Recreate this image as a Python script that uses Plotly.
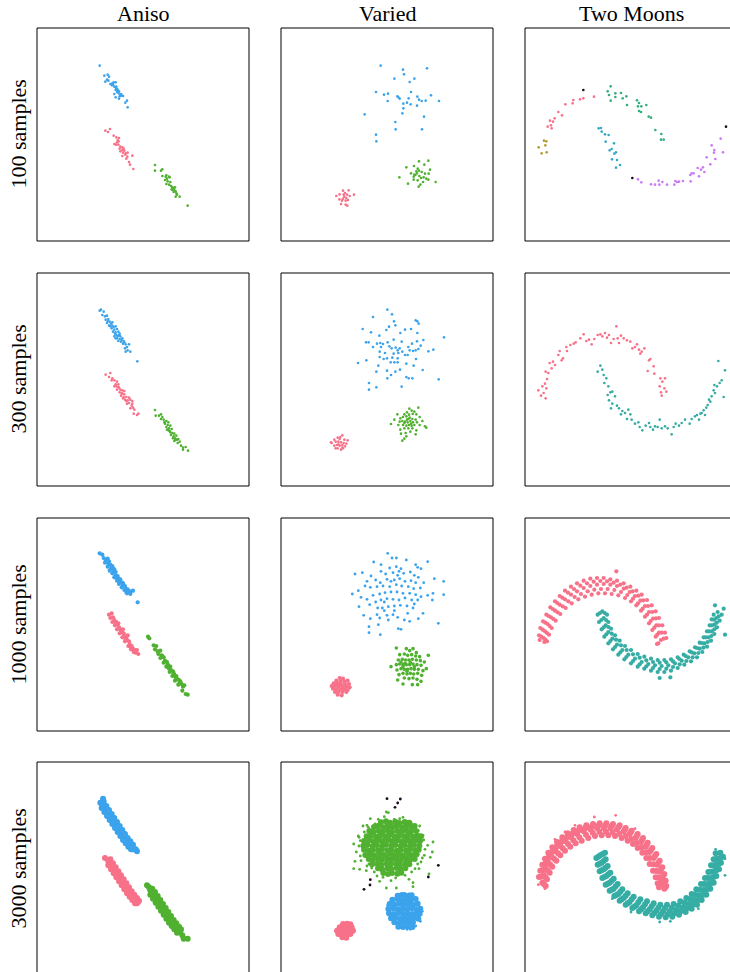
import plotly.graph_objects as go

# ---------------- colours ----------------
PINK = "#f77189"
BLUE = "#3ba3ec"
GREEN = "#50b131"
TEAL = "#36ada4"
OLIVE = "#ae9d31"
SEAGREEN = "#34ae7c"
CYAN = "#38a9c5"
PURPLE = "#cc7af4"
NOISE = "#1c0b22"

col_titles = ["Aniso", "Varied", "Two Moons"]
row_titles = ["100 samples", "300 samples", "1000 samples", "3000 samples"]

# ---------------- data (panel units) ----------------
# Aniso, 100 samples
aniso100_blue = [(188,113),(202,143),(212,140),(216,146),(210,155),(205,161),(214,158),(220,168),(226,166),(230,163),(236,163),(225,172),(232,176),(237,180),(236,186),(242,186),(246,190),(240,192),(232,198),(245,196),(250,200),(255,203),(258,204),(248,205),(236,208),(246,212),(270,218),(265,224),(272,238),(238,176),(241,184),(228,170),(252,198)]
aniso100_pink = [(205,308),(213,312),(219,303),(230,323),(238,328),(246,330),(242,336),(240,343),(232,348),(237,350),(244,350),(250,356),(256,358),(248,362),(256,366),(262,368),(250,370),(258,374),(266,376),(272,374),(265,380),(256,384),(271,386),(286,383),(268,392),(276,402),(279,410),(289,423),(245,340),(260,362)]
aniso100_green = [(354,411),(354,428),(372,428),(376,424),(376,444),(386,446),(396,446),(390,452),(398,448),(384,456),(392,460),(400,462),(388,468),(396,470),(402,474),(406,478),(410,480),(404,484),(414,478),(412,486),(416,490),(418,496),(410,492),(420,500),(428,506),(416,506),(452,533),(388,442),(406,486)]

# Varied, 100 samples
varied100_blue = [(299,113),(366,125),(438,121),(369,139),(340,152),(400,152),(386,162),(285,192),(309,200),(321,197),(390,192),(349,205),(356,212),(383,211),(409,206),(414,215),(422,219),(434,218),(450,202),(474,219),(320,219),(367,227),(378,224),(389,229),(408,233),(367,241),(364,256),(251,259),(429,266),(343,282),(344,304),(423,304),(285,320),(286,340),(352,208)]
varied100_green = [(414,400),(442,398),(376,418),(399,414),(430,410),(410,422),(447,425),(406,430),(414,428),(390,436),(400,440),(422,432),(432,437),(443,437),(355,448),(398,446),(415,444),(428,448),(436,452),(442,455),(410,457),(398,455),(426,462),(464,462),(381,467),(418,470),(413,476),(403,441),(420,450),(408,436)]
varied100_pink = [(186,488),(203,487),(176,499),(192,495),(198,500),(166,504),(206,504),(219,500),(175,514),(186,512),(194,518),(201,516),(183,518),(180,528),(194,530),(199,533),(190,506),(188,500),(196,510)]

# Two Moons, 100 samples
moons100_pink = [(175,211),(165,214),(145,216),(143,226),(121,229),(111,262),(100,252),(89,271),(84,281),(75,278),(78,292),(68,296),(80,301),(207,206)]
moons100_olive = [(57,338),(64,340),(61,352),(41,358),(65,373),(50,376)]
moons100_noise = [(175,186),(322,450),(603,296)]
moons100_seagreen = [(257,175),(248,190),(271,196),(288,195),(252,201),(271,207),(293,211),(304,205),(257,218),(306,231),(336,217),(342,225),(339,235),(349,235),(364,231),(342,249),(348,252),(371,266),(378,269),(391,306),(409,318),(408,335),(416,335)]
moons100_cyan = [(221,301),(228,300),(230,311),(240,319),(251,321),(267,346),(242,341),(260,363),(254,367),(273,373),(268,377),(261,394),(276,396),(285,411),(273,419)]
moons100_purple = [(339,454),(349,463),(378,469),(390,470),(401,458),(403,470),(412,462),(426,470),(448,470),(451,459),(456,462),(462,461),(474,459),(497,460),(496,441),(500,436),(506,436),(518,420),(522,445),(528,425),(534,418),(538,432),(545,388),(556,409),(560,352),(568,366),(567,374),(571,393),(587,332),(594,373)]

# Aniso, 300 samples
aniso300_blue = [(188,113),(192,110),(200,116),(196,126),(204,130),(210,128),(206,140),(214,138),(218,146),(210,150),(222,152),(226,158),(216,158),(230,162),(236,160),(224,166),(232,170),(240,168),(228,176),(236,178),(244,176),(238,186),(246,186),(250,190),(232,190),(240,196),(248,198),(256,196),(244,204),(252,206),(260,204),(258,212),(266,214),(276,214),(270,222),(264,226),(272,232),(280,236),(266,236),(301,265),(220,160),(234,182),(242,190),(254,200),(262,208),(248,182),(212,144),(226,148),(236,196)]
aniso300_pink = [(206,305),(220,300),(216,312),(224,322),(232,322),(240,326),(236,334),(244,334),(232,340),(246,344),(250,350),(240,350),(256,352),(248,358),(256,362),(262,364),(252,368),(260,372),(268,372),(264,380),(272,382),(280,380),(286,384),(276,390),(270,392),(284,398),(288,404),(280,406),(292,410),(290,422),(300,426),(304,422),(226,316),(238,340),(254,360),(268,384),(258,376),(244,342),(262,354),(276,374),(286,392)]
aniso300_green = [(354,411),(356,428),(366,428),(372,424),(376,432),(380,440),(372,438),(388,444),(394,448),(384,452),(392,456),(400,458),(388,462),(396,466),(404,468),(398,474),(406,480),(412,482),(402,486),(410,490),(418,488),(414,496),(420,500),(412,504),(422,510),(428,506),(432,518),(438,524),(446,522),(438,530),(453,533),(390,470),(400,478),(408,496),(416,500),(382,448),(394,472),(424,498)]

# Varied, 300 samples
varied300_blue = [(319,110),(276,132),(333,124),(404,142),(409,145),(413,152),(339,145),(343,157),(324,161),(245,168),(316,171),(372,170),(390,168),(270,178),(358,180),(409,180),(295,188),(489,193),(255,208),(263,208),(288,212),(298,210),(306,213),(320,208),(338,200),(362,206),(393,212),(408,205),(427,201),(419,218),(276,222),(300,222),(325,220),(332,226),(344,224),(356,226),(350,232),(382,222),(396,234),(386,232),(404,232),(412,228),(442,235),(457,230),(296,236),(312,240),(338,242),(352,240),(364,236),(372,246),(380,246),(296,252),(308,258),(318,256),(334,254),(350,256),(256,262),(329,268),(340,268),(350,268),(376,272),(405,258),(231,270),(292,278),(398,278),(286,296),(318,293),(343,296),(357,290),(425,291),(330,306),(376,312),(383,316),(394,316),(319,316),(473,319),(264,330),(286,343),(362,341),(264,350)]
varied300_green = [(412,404),(385,407),(392,413),(400,416),(378,418),(349,424),(370,424),(384,425),(395,423),(406,424),(416,432),(340,440),(358,436),(366,432),(376,430),(386,434),(394,438),(404,440),(424,444),(330,453),(356,446),(364,444),(372,446),(380,448),(388,444),(396,448),(408,448),(432,460),(436,464),(352,456),(366,456),(376,458),(384,456),(392,458),(400,456),(416,456),(358,470),(370,466),(382,466),(394,466),(406,472),(360,482),(374,480),(388,476),(404,484),(364,503),(370,497),(376,490),(378,440),(390,452),(370,450),(382,438)]
varied300_pink = [(184,487),(170,494),(160,500),(176,498),(190,500),(200,502),(152,510),(164,506),(172,506),(180,508),(188,510),(196,512),(160,518),(168,516),(176,518),(184,516),(192,520),(170,526),(180,530),(164,526),(186,526),(150,508),(178,492),(172,514),(184,524)]

# Two Moons, 300 samples
moons300_pink = [(40,352),(48,368),(62,376),(56,360),(64,346),(60,332),(52,340),(66,318),(70,300),(62,296),(80,286),(74,270),(84,266),(90,276),(100,246),(104,234),(110,262),(114,256),(124,222),(126,234),(136,216),(146,212),(152,208),(166,196),(176,184),(184,204),(192,200),(200,214),(208,198),(218,186),(226,184),(232,190),(240,180),(246,194),(252,186),(258,210),(266,198),(274,160),(278,196),(282,210),(288,188),(296,196),(306,202),(316,206),(322,226),(330,222),(336,214),(342,230),(350,236),(346,242),(358,226),(372,262),(376,258),(368,294),(386,280),(388,302),(406,316),(412,326),(420,316),(404,340),(418,346),(410,368),(424,356),(408,358)]
moons300_teal = [(226,278),(218,296),(232,290),(236,306),(244,316),(238,330),(250,340),(256,358),(262,356),(248,366),(270,370),(252,382),(262,392),(258,406),(276,398),(282,406),(292,414),(288,424),(300,420),(310,410),(316,424),(306,438),(320,440),(330,452),(340,448),(352,472),(344,462),(362,458),(372,450),(376,462),(384,470),(390,460),(398,462),(404,440),(410,466),(420,460),(428,466),(440,484),(446,462),(452,452),(462,458),(470,450),(480,440),(494,452),(500,438),(510,430),(516,426),(522,440),(530,420),(536,412),(544,404),(548,396),(552,380),(560,370),(566,352),(570,360),(576,340),(584,330),(590,322),(596,372),(580,264),(600,292),(568,336),(556,386),(540,426),(526,422)]

# Aniso, 1000 samples
aniso1000_blue = [(188,106),(196,110),(200,120),(206,126),(212,122),(204,134),(214,136),(220,140),(212,146),(222,152),(228,150),(218,158),(230,160),(236,162),(226,166),(236,172),(242,174),(232,178),(244,182),(250,184),(240,188),(250,192),(256,194),(246,198),(258,202),(264,204),(254,208),(266,212),(272,214),(262,216),(274,222),(282,220),(270,226),(280,228),(288,218),(302,253),(216,130),(226,144),(240,180),(258,196),(268,222),(232,154),(246,190)]
aniso1000_pink = [(216,290),(224,286),(220,300),(228,298),(232,306),(226,312),(238,312),(242,320),(234,322),(246,328),(250,334),(240,334),(254,340),(260,346),(248,346),(262,354),(268,358),(256,358),(270,366),(276,370),(264,370),(278,378),(284,384),(274,384),(288,392),(294,396),(282,394),(296,404),(304,408),(290,402),(300,396),(236,318),(252,342),(266,364),(280,386),(244,316),(272,352),(258,334)]
aniso1000_green = [(333,356),(337,361),(350,382),(358,384),(354,394),(362,400),(370,398),(364,408),(374,412),(380,418),(370,420),(384,428),(390,432),(380,434),(394,442),(400,446),(388,446),(402,456),(408,460),(398,462),(412,470),(418,474),(406,474),(420,482),(426,486),(414,488),(428,494),(434,498),(424,500),(438,506),(442,502),(436,518),(446,528),(452,530),(376,414),(392,440),(410,466),(430,490),(396,452),(416,478)]

# Varied, 1000 samples
varied1000_blue = [(320,106),(278,132),(333,120),(346,120),(376,126),(440,131),(300,140),(326,150),(346,146),(360,152),(404,140),(410,148),(420,152),(244,164),(222,168),(270,174),(300,160),(314,168),(336,164),(354,160),(368,166),(388,162),(400,172),(412,178),(460,182),(488,190),(258,190),(284,186),(298,194),(318,184),(340,186),(356,182),(372,190),(390,188),(404,194),(428,194),(232,218),(214,228),(252,204),(268,208),(288,206),(306,204),(326,206),(346,200),(362,204),(382,206),(398,212),(418,210),(440,232),(456,226),(488,230),(240,238),(258,244),(276,232),(296,228),(312,224),(330,222),(348,222),(366,226),(386,226),(404,230),(420,236),(454,246),(234,266),(266,260),(284,252),(300,246),(318,242),(336,244),(354,246),(372,240),(392,246),(410,246),(248,292),(288,290),(304,270),(322,266),(340,264),(358,262),(378,264),(396,270),(426,286),(268,302),(296,300),(318,292),(336,290),(350,298),(370,306),(386,310),(412,302),(472,316),(264,326),(292,320),(322,306),(352,332),(360,334),(264,344),(298,350),(340,278),(310,278),(380,286),(330,190),(350,172),(310,252),(290,270),(400,258)]
varied1000_green = [(346,390),(376,392),(396,392),(386,398),(406,404),(442,412),(356,410),(370,408),(380,412),(392,410),(404,414),(416,416),(352,426),(364,424),(374,426),(384,426),(394,424),(406,426),(418,428),(430,432),(330,446),(346,440),(356,438),(366,440),(376,440),(386,440),(396,438),(408,440),(420,442),(436,452),(348,456),(360,452),(370,454),(380,454),(390,452),(400,454),(412,454),(426,458),(354,470),(366,466),(378,468),(388,466),(398,468),(410,466),(422,472),(350,486),(370,480),(384,482),(396,480),(408,484),(366,498),(394,500),(410,500),(420,490),(360,432),(372,436),(388,434),(400,446),(378,460),(366,446)]
varied1000_pink = [(176,480),(186,482),(166,488),(178,490),(190,490),(200,488),(158,496),(168,496),(180,498),(192,498),(204,498),(152,504),(162,504),(172,506),(184,506),(196,506),(206,508),(156,512),(166,514),(178,514),(190,514),(200,516),(162,522),(172,522),(184,522),(196,522),(170,530),(182,532),(176,500),(188,510)]

# Two Moons, 1000 samples
moons1000_pink = [(42,352),(46,330),(54,310),(64,290),(76,268),(90,250),(104,234),(120,218),(138,206),(156,196),(176,188),(196,182),(216,180),(236,180),(256,184),(276,188),(296,196),(316,206),(334,218),(350,230),(366,246),(380,262),(392,280),(402,300),(412,322),(420,344),(424,360),
                  (49,356),(53,335),(61,314),(71,294),(83,273),(97,255),(112,239),(129,224),(147,213),(166,203),(186,196),(206,191),(226,189),(246,190),(266,194),(286,200),(305,209),(323,220),(340,233),(355,247),(369,264),(382,282),(393,301),(402,322),(410,344),
                  (56,360),(60,340),(68,318),(78,298),(90,278),(104,260),(120,244),(138,230),(156,220),(176,210),(196,204),(216,200),(236,198),(256,200),(276,204),(296,212),(314,222),(330,234),(346,248),(360,264),(372,282),(384,302),(394,322),(402,344),(408,366),
                  (61,365),(66,345),(74,324),(85,303),(98,283),(113,265),(130,250),(149,237),(168,228),(188,220),(208,215),(228,213),(248,213),(268,216),(288,222),(307,231),(324,242),(339,256),(353,272),(366,290),(377,309),(388,329),(397,350),
                  (66,370),(72,350),(80,330),(92,308),(106,288),(122,270),(140,256),(160,244),(180,236),(200,230),(220,226),(240,226),(260,228),(280,232),(300,240),(318,250),(334,262),(348,278),(360,296),(372,316),(382,336),(392,356),(400,376),
                  (274,160),(58,372),(44,366),(396,378),(416,362)]
moons1000_teal = [(218,290),(222,312),(230,334),(238,356),(250,376),(264,394),(280,410),(298,424),(318,436),(338,446),(358,452),(378,458),(398,462),(418,462),(438,458),(458,450),(478,440),(498,430),(516,418),(532,402),(546,386),(558,368),(568,348),(576,328),(584,308),(590,290),(596,272),
                  (225,285),(229,306),(236,328),(244,349),(256,369),(270,387),(286,403),(304,417),(324,429),(344,439),(364,445),(384,450),(404,453),(424,452),(444,447),(464,439),(484,429),(503,418),(520,405),(535,389),(548,372),(559,354),(568,334),(575,314),(581,295),
                  (232,280),(236,300),(242,322),(250,342),(262,362),(276,380),(292,396),(310,410),(330,422),(350,432),(370,438),(390,442),(410,444),(430,442),(450,436),(470,428),(490,418),(508,406),(524,392),(538,376),(550,358),(560,340),(568,320),(574,300),(578,282),
                  (239,285),(243,306),(250,327),(260,347),(273,365),(288,382),(305,396),(324,409),(344,419),(364,427),(384,432),(404,434),(424,433),(444,430),(463,423),(482,414),(500,403),(516,390),(530,375),(542,358),(552,340),(560,322),(567,305),
                  (246,290),(250,312),(258,332),(270,352),(284,368),(300,384),(318,396),(338,408),(358,416),(378,422),(398,426),(418,426),(438,424),(458,418),(476,410),(494,400),(510,388),(524,374),(536,358),(546,340),(554,322),(560,304),(566,290),
                  (570,262),(600,350),(404,480),(436,478)]

# Aniso, 3000 samples
aniso3000_blue = [(194,125),(202,138),(210,150),(218,162),(226,174),(234,186),(242,198),(250,210),(258,222),(266,234),(274,244),(282,254),(290,262),
                  (200,118),(208,132),(216,144),(224,156),(232,168),(240,180),(248,192),(256,204),(264,216),(272,228),(280,238),(288,248),
                  (194,138),(202,150),(210,162),(218,174),(226,186),(234,198),(242,210),(250,222),(258,234),(266,244),(274,254),(282,262),
                  (201,128),(209,141),(217,153),(225,165),(233,177),(241,189),(249,201),(257,213),(265,225),(273,236),(281,246),
                  (198,138),(206,150),(214,162),(222,174),(230,186),(238,198),(246,210),(254,222),(262,234),(270,244),(278,254),(286,262),
                  (197,121),(205,135),(213,147),(221,159),(229,171),(237,183),(245,195),(253,207),(261,219),(269,231),(277,241),(285,251),
                  (198,110),(190,122),(300,268),(296,262)]
aniso3000_pink = [(214,298),(222,310),(230,322),(238,334),(246,346),(254,358),(262,370),(270,382),(278,394),(286,404),(294,414),(300,424),
                  (220,292),(228,304),(236,316),(244,328),(252,340),(260,352),(268,364),(276,376),(284,388),(292,398),(300,408),(306,416),
                  (214,310),(222,322),(230,334),(238,346),(246,358),(254,370),(262,382),(270,394),(278,404),(286,414),(294,424),
                  (217,295),(225,307),(233,319),(241,331),(249,343),(257,355),(265,367),(273,379),(281,391),(289,401),(297,411),(303,420),
                  (218,310),(226,322),(234,334),(242,346),(250,358),(258,370),(266,382),(274,394),(282,404),(290,414),(297,424),
                  (204,288)]
aniso3000_green = [(340,385),(348,396),(356,408),(364,420),(372,432),(380,444),(388,456),(396,468),(404,480),(412,490),(420,500),(428,510),(436,520),
                   (346,380),(354,390),(362,402),(370,414),(378,426),(386,438),(394,450),(402,462),(410,474),(418,484),(426,494),(432,502),
                   (340,398),(348,410),(356,422),(364,434),(372,446),(380,458),(388,470),(396,482),(404,492),(412,502),(420,512),
                   (343,382),(351,393),(359,405),(367,417),(375,429),(383,441),(391,453),(399,465),(407,477),(415,487),(423,497),(430,506),
                   (344,397),(352,409),(360,421),(368,433),(376,445),(384,457),(392,469),(400,481),(408,491),(416,501),(424,511),
                   (330,370),(336,376),(452,530),(440,530)]

# Varied, 3000 samples
varied3000_green_core = [(300,181),(315,178),(327,182),(343,179),(355,183),(371,180),(385,182),
                    (279,195),(291,192),(307,196),(319,193),(335,195),(347,192),(363,196),(375,193),(391,195),(401,192),
                    (265,207),(277,210),(293,207),(305,209),(321,206),(333,210),(349,207),(361,209),(377,206),(389,210),(405,207),
                    (257,223),(269,221),(285,224),(297,221),(313,223),(325,220),(341,224),(353,221),(369,223),(381,221),(397,224),(409,221),(420,223),
                    (249,237),(265,235),(277,238),(293,235),(305,237),(321,234),(333,237),(349,235),(361,238),(377,235),(389,237),(405,235),(417,237),
                    (247,251),(259,249),(275,252),(287,249),(303,251),(315,248),(331,251),(343,249),(359,252),(371,249),(387,251),(399,249),(415,251),
                    (249,263),(263,266),(275,263),(291,265),(303,262),(319,265),(331,263),(347,266),(359,263),(375,265),(387,262),(403,265),(413,263),
                    (253,279),(269,277),(281,280),(297,277),(309,279),(325,276),(337,279),(353,277),(365,280),(381,277),(393,279),(407,277),
                    (263,291),(275,294),(291,291),(303,293),(319,290),(331,293),(347,291),(359,294),(375,291),(387,293),(401,291),
                    (273,307),(289,305),(301,308),(317,305),(329,307),(345,305),(357,308),(373,305),(385,307),
                    (291,319),(303,322),(319,319),(331,321),(347,318),(359,321),(373,319),
                    (307,333),(321,336),(333,333),(349,335),(361,332)]
varied3000_green_outer = [(316,150),(322,152),(268,170),(246,192),(258,190),(282,186),(340,172),(356,170),(380,178),(416,192),(398,200),(232,222),(218,246),(234,226),(428,234),(456,240),(440,250),(226,270),(238,282),(222,298),(218,320),(236,322),(256,326),(272,318),(430,280),(448,286),(454,270),(402,320),(414,320),(444,336),(288,342),(296,358),(316,378),(346,378),(396,374),(396,362),(384,352),(330,356),(264,306),(420,300),
                          (250,210),(262,196),(292,172),(310,164),(366,166),(392,186),(412,206),(426,220),(432,262),(424,288),(410,306),(392,330),(372,340),(344,348),(306,346),(280,330),(258,312),(240,296),(234,252),(238,236)]
varied3000_noise = [(318,110),(358,111),(350,123),(342,136),(472,310),(442,345),(268,353),(267,369),(249,382)]
varied3000_blue = [(350,401),(364,399),(378,402),(392,400),
                   (334,413),(348,411),(362,414),(376,412),(390,413),(404,411),
                   (326,426),(340,428),(354,425),(368,427),(382,426),(396,428),(410,425),
                   (322,441),(336,439),(350,442),(364,440),(378,441),(392,439),(406,442),(418,440),
                   (324,454),(338,456),(352,453),(366,455),(380,454),(394,456),(408,453),(416,455),
                   (330,469),(344,467),(358,470),(372,468),(386,469),(400,467),(412,470),
                   (340,481),(354,483),(368,480),(382,482),(396,481),
                   (352,494),(366,495),(380,493),(394,495)]
varied3000_blue_outer = [(358,396),(372,394),(384,396),(418,478),(404,492),(378,502),(388,502),(350,496),(320,430),(424,448)]
varied3000_pink = [(186,486),(198,485),(208,487),
                   (176,496),(188,497),(200,495),(212,496),
                   (168,506),(180,505),(192,507),(204,505),(216,506),
                   (172,516),(184,517),(196,515),(208,516),
                   (184,526),(196,527)]

# Two Moons, 3000 samples
moons3000_pink = [(42,345),(46,326),(52,308),(60,290),(70,272),(82,256),(96,240),(112,226),(128,214),(146,204),(164,196),(184,190),(204,186),(224,184),(244,184),(264,186),(284,190),(302,198),(320,206),(338,216),(354,228),(368,242),(382,258),(394,276),(404,296),(412,316),(418,336),(422,356),(424,372),
                  (49,344),(54,324),(61,305),(70,287),(81,270),(94,254),(109,239),(125,226),(142,215),(160,206),(180,199),(200,194),(220,191),(240,191),(260,192),(280,196),(299,203),(317,211),(335,222),(351,234),(365,248),(378,264),(390,282),(400,302),(408,322),(414,342),(418,362),(421,376),
                  (52,362),(56,340),(62,320),(70,302),(80,284),(92,268),(106,252),(122,238),(138,226),(156,216),(176,208),(196,202),(216,198),(236,198),(256,198),(276,202),(296,208),(314,216),(332,228),(348,240),(362,254),(374,270),(386,288),(396,308),(404,328),(410,348),(414,368),(418,380),
                  (57,367),(61,346),(68,326),(76,308),(87,290),(99,274),(113,259),(129,246),(145,235),(163,226),(183,218),(203,212),(223,209),(243,209),(263,210),(283,215),(302,222),(319,231),(335,243),(350,256),(363,271),(374,288),(385,307),(394,327),(401,346),(406,362),
                  (62,372),(66,352),(74,332),(82,314),(94,296),(106,280),(120,266),(136,254),(152,244),(170,236),(190,228),(210,222),(230,220),(250,220),(270,222),(290,228),(308,236),(324,246),(338,258),(352,272),(364,288),(374,306),(384,326),(392,346),(398,364),(402,376)]
moons3000_pink_outer = [(208,165),(272,160),(60,380),(40,368),(420,380),(150,190),(330,200),(120,210),(90,232)]
moons3000_teal = [(214,288),(218,308),(224,328),(232,348),(242,368),(254,386),(268,402),(284,416),(302,428),(322,438),(342,448),(362,454),(382,460),(402,464),(422,466),(442,464),(462,458),(482,450),(500,440),(516,428),(530,414),(544,398),(556,380),(566,362),(574,342),(582,322),(588,302),(594,284),
                  (220,284),(224,305),(230,325),(238,345),(248,365),(260,383),(274,399),(290,412),(308,424),(328,434),(348,442),(368,448),(388,453),(408,456),(428,457),(448,454),(468,447),(487,438),(504,427),(519,414),(533,399),(546,382),(557,364),(566,345),(574,325),(581,306),(587,287),
                  (226,280),(230,302),(236,322),(244,342),(254,362),(266,380),(280,396),(296,408),(314,420),(334,430),(354,436),(374,442),(394,446),(414,448),(434,448),(454,444),(474,436),(492,426),(508,414),(522,400),(536,384),(548,366),(558,348),(566,328),(574,308),(580,290),(586,272),
                  (233,276),(236,297),(242,317),(250,337),(260,356),(272,373),(286,389),(302,401),(320,412),(340,421),(360,427),(380,433),(400,437),(420,438),(440,437),(460,431),(479,422),(496,411),(511,398),(525,383),(538,366),(549,348),(558,329),(566,310),(573,291),
                  (240,272),(242,292),(248,312),(256,332),(266,350),(278,366),(292,382),(308,394),(326,404),(346,412),(366,418),(386,424),(406,428),(426,428),(446,426),(466,418),(484,408),(500,396),(514,382),(528,366),(540,348),(550,330),(558,310),(566,292),(572,274)]
moons3000_teal_outer = [(572,262),(600,340),(404,480),(436,478),(600,290),(318,450),(262,410),(520,440)]

# panel contents: (row, col) -> list of (points, colour, marker size or None for the row default)
panels = {
    (0, 0): [(aniso100_blue, BLUE, None), (aniso100_pink, PINK, None), (aniso100_green, GREEN, None)],
    (0, 1): [(varied100_blue, BLUE, None), (varied100_green, GREEN, None), (varied100_pink, PINK, None)],
    (0, 2): [(moons100_pink, PINK, None), (moons100_olive, OLIVE, None), (moons100_seagreen, SEAGREEN, None),
             (moons100_cyan, CYAN, None), (moons100_purple, PURPLE, None), (moons100_noise, NOISE, None)],
    (1, 0): [(aniso300_blue, BLUE, None), (aniso300_pink, PINK, None), (aniso300_green, GREEN, None)],
    (1, 1): [(varied300_blue, BLUE, None), (varied300_green, GREEN, None), (varied300_pink, PINK, None)],
    (1, 2): [(moons300_pink, PINK, None), (moons300_teal, TEAL, None)],
    (2, 0): [(aniso1000_blue, BLUE, None), (aniso1000_pink, PINK, None), (aniso1000_green, GREEN, None)],
    (2, 1): [(varied1000_blue, BLUE, 2.8), (varied1000_green, GREEN, 3.6), (varied1000_pink, PINK, None)],
    (2, 2): [(moons1000_pink, PINK, None), (moons1000_teal, TEAL, None)],
    (3, 0): [(aniso3000_blue, BLUE, None), (aniso3000_pink, PINK, None), (aniso3000_green, GREEN, None)],
    (3, 1): [(varied3000_green_outer, GREEN, 2.8), (varied3000_green_core, GREEN, None),
             (varied3000_blue_outer, BLUE, 2.8), (varied3000_blue, BLUE, None),
             (varied3000_pink, PINK, None), (varied3000_noise, NOISE, 2.8)],
    (3, 2): [(moons3000_pink_outer, PINK, 2.8), (moons3000_pink, PINK, None),
             (moons3000_teal_outer, TEAL, 2.8), (moons3000_teal, TEAL, None)],
}
row_marker_size = [2.6, 2.6, 4.2, 6.0]

# ---------------- layout geometry ----------------
W, H = 730, 972
col_left = [37, 281, 525]
row_top = [28, 273, 518, 762]
PW, PH = 212, 213
UNITS_PER_PX = 3

fig = go.Figure()
layout_axes = {}
shapes = []
for r in range(4):
    for c in range(3):
        idx = r * 3 + c + 1
        x0 = col_left[c]
        x1 = min(x0 + PW, W)
        y0 = row_top[r]
        y1 = min(y0 + PH, H)
        xs_name = "xaxis" if idx == 1 else f"xaxis{idx}"
        ys_name = "yaxis" if idx == 1 else f"yaxis{idx}"
        layout_axes[xs_name] = dict(domain=[x0 / W, x1 / W], range=[0, (x1 - x0) * UNITS_PER_PX],
                                    visible=False, anchor=f"y{idx}" if idx > 1 else "y", fixedrange=True)
        layout_axes[ys_name] = dict(domain=[1 - y1 / H, 1 - y0 / H], range=[(y1 - y0) * UNITS_PER_PX, 0],
                                    visible=False, anchor=f"x{idx}" if idx > 1 else "x", fixedrange=True)
        for pts, colr, sz in panels[(r, c)]:
            fig.add_trace(go.Scatter(
                x=[p[0] for p in pts], y=[p[1] for p in pts], mode="markers",
                marker=dict(color=colr, size=sz if sz else row_marker_size[r], line=dict(width=0)),
                xaxis=f"x{idx}" if idx > 1 else "x", yaxis=f"y{idx}" if idx > 1 else "y",
                showlegend=False, hoverinfo="skip"))
        shapes.append(dict(type="rect", xref="paper", yref="paper",
                           x0=x0 / W, x1=(x0 + PW) / W, y0=1 - (y0 + PH) / H, y1=1 - y0 / H,
                           line=dict(color="#000000", width=1), fillcolor="rgba(0,0,0,0)"))

annotations = []
FONT = dict(family="Liberation Serif, Times New Roman, serif", size=22, color="#000000")
for c, t in enumerate(col_titles):
    annotations.append(dict(text=t, x=(col_left[c] + PW / 2) / W, y=1 - 13 / H, xref="paper", yref="paper",
                            showarrow=False, font=FONT, xanchor="center", yanchor="middle"))
for r, t in enumerate(row_titles):
    annotations.append(dict(text=t, x=18 / W, y=1 - (row_top[r] + PH / 2) / H, xref="paper", yref="paper",
                            showarrow=False, font=FONT, textangle=-90, xanchor="center", yanchor="middle"))

fig.update_layout(width=W, height=H, margin=dict(l=0, r=0, t=0, b=0),
                  paper_bgcolor="white", plot_bgcolor="white",
                  shapes=shapes, annotations=annotations, **layout_axes)
fig.write_html("out.html", config={"displayModeBar": False, "staticPlot": True},
               post_script="document.body.style.margin='0px';document.body.style.overflow='hidden';")
